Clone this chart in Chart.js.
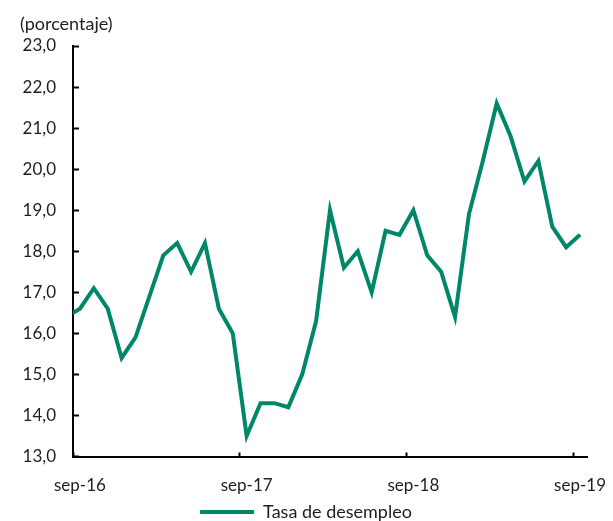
<!DOCTYPE html>
<html lang="es">
<head>
<meta charset="utf-8">
<title>Tasa de desempleo</title>
<script src="https://cdn.jsdelivr.net/npm/chart.js@4"></script>
<style>
  html, body { margin: 0; padding: 0; background: #ffffff; }
  #wrap { width: 613px; height: 521px; position: relative; }
</style>
</head>
<body>
<div id="wrap"><canvas id="desempleoChart"></canvas></div>
<script>
// meses (ago-16 queda fuera del eje, solo para el tramo inicial de la linea)
const meses = [
  'ago-16', 'sep-16', 'oct-16', 'nov-16', 'dic-16',
  'ene-17', 'feb-17', 'mar-17', 'abr-17', 'may-17', 'jun-17', 'jul-17', 'ago-17', 'sep-17', 'oct-17', 'nov-17', 'dic-17',
  'ene-18', 'feb-18', 'mar-18', 'abr-18', 'may-18', 'jun-18', 'jul-18', 'ago-18', 'sep-18', 'oct-18', 'nov-18', 'dic-18',
  'ene-19', 'feb-19', 'mar-19', 'abr-19', 'may-19', 'jun-19', 'jul-19', 'ago-19', 'sep-19'
];

const tasaDesempleo = [
  16.4, 16.6, 17.1, 16.6, 15.4,
  15.9, 16.9, 17.9, 18.2, 17.5, 18.2, 16.6, 16.0, 13.5, 14.3, 14.3, 14.2,
  15.0, 16.3, 19.0, 17.6, 18.0, 17.0, 18.5, 18.4, 19.0, 17.9, 17.5, 16.4,
  18.9, 20.2, 21.6, 20.8, 19.7, 20.2, 18.6, 18.1, 18.4
];

const yTicks = { min: 13, max: 23, step: 1 };

const verde = '#00876a';
const texto = '#1e1e1e';
const fuente = 'Lato, "Open Sans", sans-serif';

const esSep = (label) => typeof label === 'string' && label.startsWith('sep');

const ctx = document.getElementById('desempleoChart').getContext('2d');

const chartInstance = new Chart(ctx, {
  type: 'line',
  data: {
    labels: meses,
    datasets: [{
      label: 'Tasa de desempleo',
      data: tasaDesempleo,
      borderColor: verde,
      backgroundColor: verde,
      borderWidth: 4,
      pointRadius: 0,
      tension: 0,
      clip: 0
    }]
  },
  options: {
    responsive: true,
    maintainAspectRatio: false,
    animation: false,
    layout: {
      // la leyenda lleva 10px fijos debajo; se baja para que quede al pie
      padding: { left: 20, right: 21, top: 0, bottom: -10 }
    },
    plugins: {
      title: {
        display: true,
        text: '(porcentaje)',
        align: 'start',
        color: texto,
        font: { family: fuente, size: 18, weight: 'normal', lineHeight: 1.2 },
        padding: { top: 13, bottom: 11.4 }
      },
      legend: {
        display: true,
        position: 'bottom',
        labels: {
          color: texto,
          font: { family: fuente, size: 18 },
          usePointStyle: true,
          pointStyle: 'line',
          pointStyleWidth: 54,
          padding: 4
        }
      },
      tooltip: { enabled: false }
    },
    scales: {
      x: {
        type: 'category',
        min: 'sep-16',
        max: 'sep-19',
        offset: true,
        grid: {
          offset: true,
          drawOnChartArea: false,
          drawTicks: true,
          tickLength: -4,
          tickWidth: 2,
          tickColor: (c) => (c.tick && esSep(meses[c.tick.value])) ? '#000000' : 'rgba(0,0,0,0)'
        },
        border: { display: true, color: '#000000', width: 2 },
        ticks: {
          autoSkip: false,
          maxRotation: 0,
          padding: 23,
          color: texto,
          font: { family: fuente, size: 17 },
          callback: function (value) {
            const label = this.getLabelForValue(value);
            return esSep(label) ? label : '';
          }
        },
        afterFit: (scale) => {
          scale.height = 42.5;
          // margen fijo a la derecha para la etiqueta sep-19
          scale.paddingLeft = 0;
          scale.paddingRight = 26;
        }
      },
      y: {
        min: yTicks.min,
        max: yTicks.max,
        grid: {
          drawOnChartArea: false,
          drawTicks: true,
          tickLength: -6,
          tickWidth: 2,
          tickColor: '#000000'
        },
        border: { display: true, color: '#000000', width: 2 },
        ticks: {
          stepSize: yTicks.step,
          padding: 23,
          color: texto,
          font: { family: fuente, size: 17 },
          callback: (v) => v.toFixed(1).replace('.', ',')
        },
        afterFit: (scale) => { scale.width = 53; }
      }
    }
  }
});
</script>
</body>
</html>
